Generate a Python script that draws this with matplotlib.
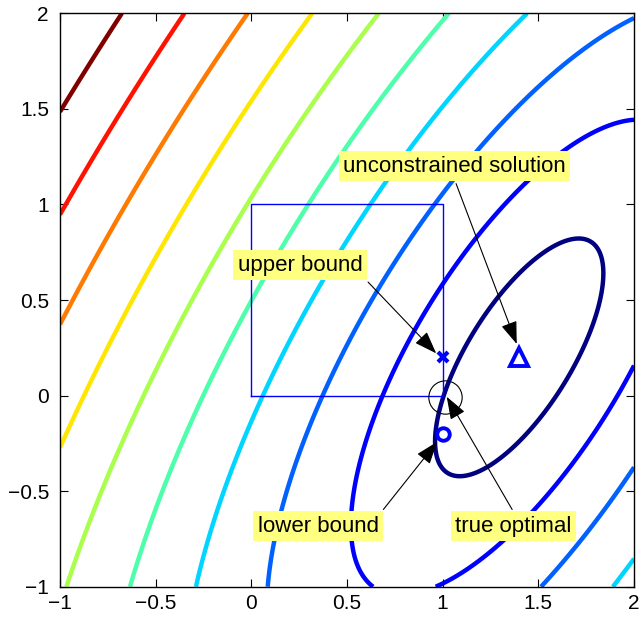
import numpy as np
import matplotlib
matplotlib.use("Agg")
from matplotlib import pyplot as plt

# least-squares objective ||C x - d||, bounded on the unit box
C = np.array([[1.0, 0.0], [1.0, -1.0]])
x_unc = np.array([1.4, 0.2])          # unconstrained solution
d = C @ x_unc
box_lo = [0.0, 0.0]
box_hi = [1.0, 1.0]
upper_pt = [1.0, 0.2]
lower_pt = [1.0, -0.2]
true_opt = [1.01, -0.01]
n_levels = 10
tick_vals = [-1, -0.5, 0, 0.5, 1, 1.5, 2]
tick_labels = ['\u22121', '\u22120.5', '0', '0.5', '1', '1.5', '2']

plt.rcParams['font.family'] = ['Liberation Sans', 'DejaVu Sans']

fig = plt.figure(figsize=(6.4, 6.17), dpi=100)
ax = fig.add_axes([0.09375, 0.0491, 0.8969, 0.9293])

xs = np.linspace(-1, 2, 301)
ys = np.linspace(-1, 2, 301)
X, Y = np.meshgrid(xs, ys)
R1 = C[0, 0] * X + C[0, 1] * Y - d[0]
R2 = C[1, 0] * X + C[1, 1] * Y - d[1]
Z = np.sqrt(R1**2 + R2**2)

levels = np.linspace(Z.min(), Z.max(), n_levels + 2)[1:-1]
cols = plt.cm.jet(np.linspace(0, 1, n_levels))
ax.contour(X, Y, Z, levels=levels, colors=cols, linewidths=3.2)

# bound box
bx = [box_lo[0], box_hi[0], box_hi[0], box_lo[0], box_lo[0]]
by = [box_lo[1], box_lo[1], box_hi[1], box_hi[1], box_lo[1]]
ax.plot(bx, by, color='b', lw=1)

ax.plot(upper_pt[0], upper_pt[1], 'x', color='b', ms=7, mew=3)
ax.plot(lower_pt[0], lower_pt[1], 'o', color='b', mfc='none', ms=9, mew=2.8)
ax.plot(x_unc[0], x_unc[1], '^', color='b', mfc='none', ms=13, mew=2.8)
ax.plot(true_opt[0], true_opt[1], 'o', color='k', mfc='none', ms=24, mew=0.8)

# annotations: (text, text pos, arrow tail, arrow tip)
notes = [
    ("unconstrained solution", (1.062, 1.200), (1.070, 1.109), (1.387, 0.270)),
    ("upper bound", (0.2546, 0.683), (0.610, 0.594), (0.966, 0.221)),
    ("lower bound", (0.350, -0.684), (0.690, -0.596), (0.971, -0.242)),
    ("true optimal", (1.370, -0.684), (1.363, -0.596), (1.021, -0.006)),
]
for txt, tpos, tail, tip in notes:
    ax.annotate('', xy=tip, xytext=tail,
                arrowprops=dict(arrowstyle='-|>,head_length=1.0,head_width=0.36',
                                color='k', lw=0.8, shrinkA=0, shrinkB=0,
                                mutation_scale=14))
    ax.text(tpos[0], tpos[1], txt, ha='center', va='center', fontsize=16,
            bbox=dict(boxstyle='square,pad=0.2', fc='#ffff80', ec='none'))

ax.set_xlim(-1, 2)
ax.set_ylim(-1, 2)
ax.set_xticks(tick_vals)
ax.set_yticks(tick_vals)
ax.set_xticklabels(tick_labels)
ax.set_yticklabels(tick_labels)
ax.tick_params(direction='in', top=True, right=True, length=6, labelsize=15)
ax.tick_params(axis='x', pad=5)
ax.tick_params(axis='y', pad=8)
for s in ax.spines.values():
    s.set_linewidth(1)

fig.savefig("out.png", dpi=100)
